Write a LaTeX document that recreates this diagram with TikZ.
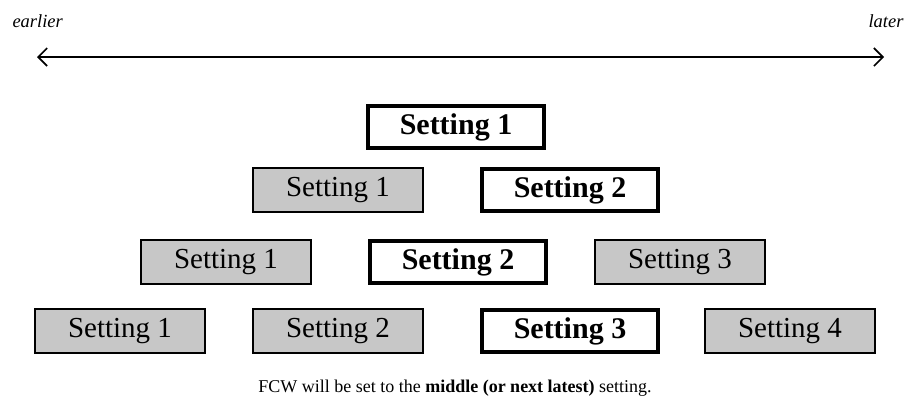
\documentclass[tikz,border=0pt]{standalone}
\usepackage{fontspec}
\setmainfont{Liberation Serif}
\usetikzlibrary{arrows.meta}

\begin{document}
\begin{tikzpicture}[x=1pt,y=-1pt]
		\tikzstyle {old box} = [draw=black, line width=1.2pt, fill=black!22, minimum width=170pt, minimum height=44pt, inner sep=0pt, font=\fontsize{29}{32}\selectfont]
		\tikzstyle {pick box} = [draw=black, line width=4pt, fill=white, minimum width=176pt, minimum height=42pt, inner sep=0pt, font=\fontsize{30}{32}\selectfont\bfseries]

		\useasboundingbox (0,0) rectangle (909,418);

		% time axis
		\node[anchor=base west, font=\fontsize{18.5}{20}\selectfont\itshape] (earlier) at (9,27) {earlier};
		\node[anchor=base east, font=\fontsize{18.5}{20}\selectfont\itshape] (later) at (907,27) {later};
		\coordinate (axisL) at (37,57);
		\coordinate (axisR) at (884,57);
		\draw[line width=1.6pt, {Straight Barb[length=9pt,width=18pt]}-{Straight Barb[length=9pt,width=18pt]}] (axisL) -- (axisR);

		% row 1
		\node[pick box] (r1s1) at (456,127) {Setting 1};

		% row 2
		\node[old box] (r2s1) at (338,190) {Setting 1};
		\node[pick box] (r2s2) at (570,190) {Setting 2};

		% row 3
		\node[old box] (r3s1) at (226,262) {Setting 1};
		\node[pick box] (r3s2) at (458,262) {Setting 2};
		\node[old box] (r3s3) at (680,262) {Setting 3};

		% row 4
		\node[old box] (r4s1) at (120,331) {Setting 1};
		\node[old box] (r4s2) at (338,331) {Setting 2};
		\node[pick box] (r4s3) at (570,331) {Setting 3};
		\node[old box] (r4s4) at (790,331) {Setting 4};

		\node[font=\fontsize{18}{20}\selectfont] (note) at (455,388) {FCW will be set to the \textbf{middle (or next latest)} setting.};
\end{tikzpicture}
\end{document}
